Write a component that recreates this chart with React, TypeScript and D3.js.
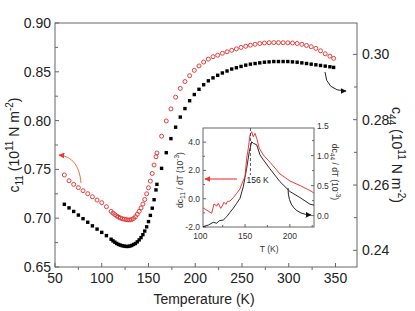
import * as d3 from 'd3'

// main panel: temperature (K), c11 (left axis, open red circles), c44 (right axis, black squares)
const tempK = [
  60, 65, 70, 75, 80, 85, 90, 95, 100, 105,
  110, 112, 114, 116, 118, 120, 122, 124, 126, 128, 130, 132, 134, 136, 138,
  140, 142, 144, 146, 148, 150, 152, 154, 156, 158, 159,
  164, 169, 174, 179, 184, 189, 194, 199, 204, 209, 214, 219, 224, 229, 234,
  239, 244, 249, 254, 259, 264, 269, 274, 279, 284, 289, 294, 299, 304, 309,
  314, 319, 324, 329, 334, 339, 344, 348,
]
const c11 = [
  0.7443, 0.7384, 0.7347, 0.7313, 0.7282, 0.7251, 0.722, 0.7186, 0.7159, 0.7118,
  0.707, 0.7052, 0.7037, 0.7023, 0.7011, 0.7002, 0.6995, 0.699, 0.6986, 0.6983, 0.6982, 0.6986, 0.6997, 0.7015, 0.704,
  0.707, 0.7105, 0.7145, 0.7192, 0.725, 0.7312, 0.738, 0.7458, 0.7545, 0.763, 0.7668,
  0.784, 0.7996, 0.812, 0.824, 0.833, 0.84, 0.846, 0.8515, 0.856, 0.86, 0.863, 0.8655, 0.867, 0.869, 0.8705,
  0.872, 0.8735, 0.875, 0.8762, 0.8773, 0.8782, 0.879, 0.8795, 0.8798, 0.8799, 0.8799, 0.8798, 0.8797, 0.8795, 0.879,
  0.8782, 0.877, 0.8757, 0.874, 0.8715, 0.8685, 0.866, 0.8638,
]
const c44 = [
  0.2541, 0.253, 0.2519, 0.2508, 0.2497, 0.2486, 0.2475, 0.2465, 0.2455, 0.2445,
  0.2434, 0.2429, 0.2425, 0.2421, 0.2418, 0.2416, 0.2414, 0.2413, 0.2412, 0.2412, 0.2413, 0.2415, 0.2418, 0.2421, 0.2426,
  0.2432, 0.2439, 0.2448, 0.2459, 0.2472, 0.2488, 0.2507, 0.2529, 0.2555, 0.2585, 0.2602,
  0.2651, 0.2699, 0.2742, 0.2777, 0.2808, 0.2834, 0.2858, 0.2877, 0.2893, 0.2907, 0.2919, 0.2928, 0.2936, 0.2943, 0.2949,
  0.2955, 0.2959, 0.2963, 0.2967, 0.297, 0.2972, 0.2974, 0.2976, 0.2977, 0.2978, 0.2978, 0.2978, 0.2978, 0.2977, 0.2976,
  0.2974, 0.2972, 0.297, 0.2968, 0.2966, 0.2964, 0.2962, 0.296,
]

// inset: derivatives (10^-3)
const dc11T = [103, 107, 112.7, 115.3, 118.3, 120.1, 122.8, 125, 126.5, 128.7, 130.1, 133.2, 136.8, 140.6, 144.3, 147.3, 149.9, 151.8, 153.6, 155.5, 157.4, 159.2, 161.1, 163, 165.9, 170.4, 177.8, 189, 200.2, 211.4, 222.5, 227]
const dc11 = [-0.64, -0.8, -1.03, -0.37, -0.52, -0.33, -0.68, -0.45, -0.25, -0.4, -0.21, -0.16, 0.07, 0.38, 0.69, 1.2, 1.56, 2.86, 3.56, 4.5, 4.74, 4.38, 4.62, 4.27, 3.56, 3.09, 2.58, 1.75, 1.25, 0.93, 0.58, 0.4]
const dc44T = [103, 109, 114.5, 118.3, 121.2, 125.7, 129.5, 133.2, 136.8, 140.6, 144.3, 148, 151.8, 154.7, 157.4, 159.2, 163, 166.7, 170.4, 177.8, 189, 200.2, 211.4, 222.5, 227]
const dc44 = [-0.185, -0.157, -0.112, -0.128, -0.085, -0.073, -0.018, 0.055, 0.122, 0.205, 0.288, 0.48, 0.79, 1.065, 1.23, 1.205, 1.18, 1.01, 0.93, 0.78, 0.565, 0.4, 0.3, 0.19, 0.175]

const xMajor = [50, 100, 150, 200, 250, 300, 350]
const xMinor = [75, 125, 175, 225, 275, 325]
const leftMajor = [0.65, 0.7, 0.75, 0.8, 0.85, 0.9]
const leftMinor = [0.675, 0.725, 0.775, 0.825, 0.875]
const rightMajor = [0.24, 0.26, 0.28, 0.3]
const rightMinor = [0.25, 0.27, 0.29]
const inXMajor = [100, 150, 200]
const inXMinor = [125, 175, 225]
const inLMajor = [-2, 0, 2, 4]
const inLMinor = [-1, 1, 3]
const inRMajor = [0, 0.5, 1, 1.5]
const inRMinor = [0.25, 0.75, 1.25]
const peakT = 156

const FONT = '"Liberation Sans", Arial, sans-serif'
const AX = '#666'
const RED = '#e02a2a'

export default function App() {
  const W = 415, H = 311
  const L = 55, R = 357, T = 23, B = 267
  const x = d3.scaleLinear().domain([50, 373]).range([L, R])
  const yl = d3.scaleLinear().domain([0.65, 0.9]).range([B, T])
  const yr = d3.scaleLinear().domain([0.2349, 0.3096]).range([B, T])

  // inset frame
  const iL = 203, iR = 314, iT = 128, iB = 227
  const ix = d3.scaleLinear().domain([103, 227]).range([iL, iR])
  const il = d3.scaleLinear().domain([-2, 5]).range([iB, iT])
  const ir = d3.scaleLinear().domain([-0.19, 1.46]).range([iB, iT])

  const lineL = d3.line<number>().x((_, i) => ix(dc11T[i])).y(d => il(d))
  const lineR = d3.line<number>().x((_, i) => ix(dc44T[i])).y(d => ir(d))

  const tick = (x1: number, y1: number, x2: number, y2: number, k: string) => (
    <line key={k} x1={x1} y1={y1} x2={x2} y2={y2} stroke={AX} strokeWidth={1} />
  )

  return (
    <svg width={W} height={H} style={{ position: 'absolute', left: 0, top: 0, background: '#fff' }} fontFamily={FONT}>
      <defs>
        <marker id="hr" viewBox="0 0 10 10" refX="9" refY="5" markerWidth="6" markerHeight="6" orient="auto">
          <path d="M0,0 L10,5 L0,10 z" fill="#ea3a24" />
        </marker>
        <marker id="hk" viewBox="0 0 10 10" refX="9" refY="5" markerWidth="6" markerHeight="6" orient="auto">
          <path d="M0,0 L10,5 L0,10 z" fill="#111" />
        </marker>
      </defs>

      {/* main frame */}
      <rect x={L} y={T} width={R - L} height={B - T} fill="none" stroke={AX} strokeWidth={1} />
      {xMajor.map(v => tick(x(v), B, x(v), B - 4, 'xM' + v))}
      {xMinor.map(v => tick(x(v), B, x(v), B + 3, 'xm' + v))}
      {leftMajor.map(v => tick(L, yl(v), L + 4, yl(v), 'lM' + v))}
      {leftMinor.map(v => tick(L, yl(v), L + 3, yl(v), 'lm' + v))}
      {rightMajor.map(v => tick(R, yr(v), R - 4, yr(v), 'rM' + v))}
      {rightMinor.map(v => tick(R, yr(v), R - 3, yr(v), 'rm' + v))}

      {xMajor.map(v => (
        <text key={'xt' + v} x={x(v)} y={B + 16} fontSize={14} textAnchor="middle" fill="#222">{v}</text>
      ))}
      {leftMajor.map(v => (
        <text key={'lt' + v} x={L - 4} y={yl(v) + 5} fontSize={14} textAnchor="end" fill="#222">{v.toFixed(2)}</text>
      ))}
      {rightMajor.map(v => (
        <text key={'rt' + v} x={R + 5} y={yr(v) + 5} fontSize={14} textAnchor="start" fill="#222">{v.toFixed(2)}</text>
      ))}

      <text x={204} y={304} fontSize={14} textAnchor="middle" fill="#222">Temperature (K)</text>
      <text transform="translate(19,145) rotate(-90)" fontSize={14} textAnchor="middle" fill="#222">
        c<tspan fontSize={10} dy={4}>11</tspan>
        <tspan dy={-4}> (10</tspan><tspan fontSize={10} dy={-6}>11</tspan>
        <tspan dy={6}> N m</tspan><tspan fontSize={10} dy={-6}>-2</tspan><tspan dy={6}>)</tspan>
      </text>
      <text transform="translate(392,155) rotate(90)" fontSize={14} textAnchor="middle" fill="#222">
        c<tspan fontSize={10} dy={4}>44</tspan>
        <tspan dy={-4}> (10</tspan><tspan fontSize={10} dy={-6}>11</tspan>
        <tspan dy={6}> N m</tspan><tspan fontSize={10} dy={-6}>-2</tspan><tspan dy={6}>)</tspan>
      </text>

      {/* data */}
      {c44.map((v, i) => (
        <rect key={'s' + i} x={x(tempK[i]) - 1.7} y={yr(v) - 1.7} width={3.4} height={3.4} fill="#000" />
      ))}
      {c11.map((v, i) => (
        <circle key={'c' + i} cx={x(tempK[i])} cy={yl(v)} r={2} fill="none" stroke={RED} strokeWidth={0.9} />
      ))}

      {/* main arrows */}
      <path d="M81,183 Q79,157 59,155" fill="none" stroke="#f07040" strokeWidth={1} markerEnd="url(#hr)" />
      <path d="M325,72 Q326,91 346,91" fill="none" stroke="#222" strokeWidth={1} markerEnd="url(#hk)" />

      {/* inset */}
      <rect x={iL} y={iT} width={iR - iL} height={iB - iT} fill="#fff" stroke={AX} strokeWidth={1} />
      {inXMajor.filter(v => ix(v) >= iL).map(v => tick(ix(v), iB, ix(v), iB - 3, 'ixM' + v))}
      {inXMinor.filter(v => ix(v) <= iR).map(v => tick(ix(v), iB, ix(v), iB - 2, 'ixm' + v))}
      {inLMajor.map(v => tick(iL, il(v), iL + 3, il(v), 'ilM' + v))}
      {inLMinor.map(v => tick(iL, il(v), iL + 2, il(v), 'ilm' + v))}
      {inRMajor.filter(v => ir(v) >= iT - 1).map(v => tick(iR, ir(v), iR - 3, ir(v), 'irM' + v))}
      {inRMinor.map(v => tick(iR, ir(v), iR - 2, ir(v), 'irm' + v))}
      {inXMajor.map(v => (
        <text key={'ixt' + v} x={ix(v)} y={iB + 12} fontSize={8.5} textAnchor="middle" fill="#333">{v}</text>
      ))}
      {inLMajor.map(v => (
        <text key={'ilt' + v} x={iL - 3} y={il(v) + 3} fontSize={8.5} textAnchor="end" fill="#333">{v.toFixed(1)}</text>
      ))}
      {inRMajor.map(v => (
        <text key={'irt' + v} x={iR + 3} y={ir(v) + 3} fontSize={8.5} textAnchor="start" fill="#333">{v.toFixed(1)}</text>
      ))}
      <text x={ix(177)} y={iB + 25} fontSize={8.5} textAnchor="middle" fill="#333">T (K)</text>
      <text transform="translate(183,180) rotate(-90)" fontSize={8.5} textAnchor="middle" fill="#333">
        dc<tspan fontSize={6.5} dy={2}>11</tspan><tspan dy={-2}> / dT  (10</tspan><tspan fontSize={6.5} dy={-4}>-3</tspan><tspan dy={4}>)</tspan>
      </text>
      <text transform="translate(332,172) rotate(90)" fontSize={8.5} textAnchor="middle" fill="#333">
        dc<tspan fontSize={6.5} dy={2}>44</tspan><tspan dy={-2}> / dT  (10</tspan><tspan fontSize={6.5} dy={-4}>-3</tspan><tspan dy={4}>)</tspan>
      </text>

      <path d={lineR(dc44) ?? ''} fill="none" stroke="#111" strokeWidth={0.9} />
      <path d={lineL(dc11) ?? ''} fill="none" stroke="#ee2222" strokeWidth={0.9} />
      <line x1={ix(peakT)} y1={iT} x2={ix(peakT)} y2={175} stroke="#333" strokeWidth={0.8} strokeDasharray="3,2" />
      <text x={ix(peakT) - 4} y={183} fontSize={8.5} fill="#222">156 K</text>

      <line x1={237} y1={179} x2={205} y2={179} stroke="#e22" strokeWidth={1} markerEnd="url(#hr)" />
      <path d="M288,188 Q288,214 311,215" fill="none" stroke="#222" strokeWidth={1} markerEnd="url(#hk)" />
    </svg>
  )
}
